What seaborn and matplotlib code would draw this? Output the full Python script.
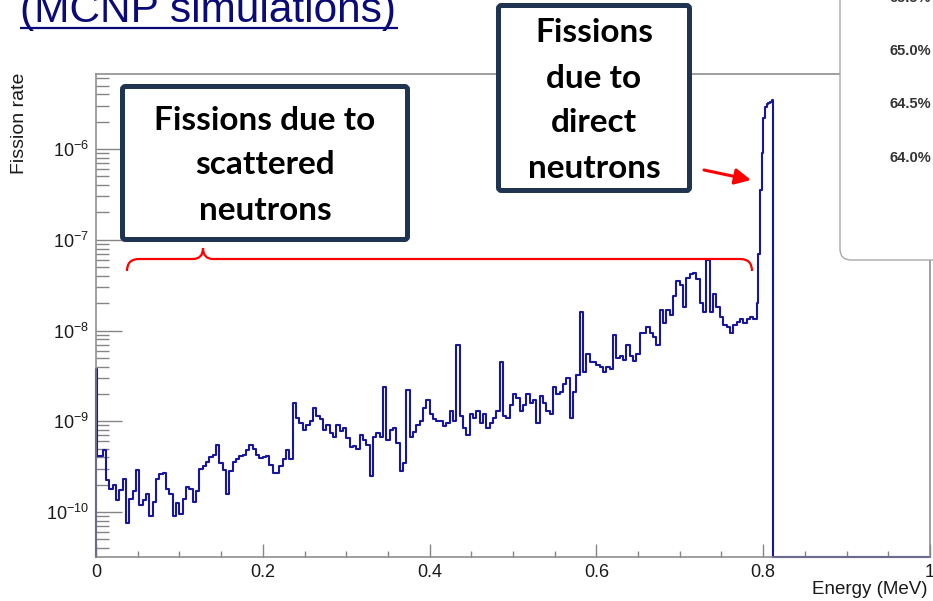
import numpy as np
import pandas as pd
import matplotlib
matplotlib.use("Agg")
import matplotlib.pyplot as plt
import seaborn as sns
from matplotlib.patches import FancyBboxPatch, PathPatch
from matplotlib.path import Path
from matplotlib.ticker import LogLocator, MultipleLocator, LogFormatterMathtext, NullFormatter, FixedLocator, FixedFormatter
import logging
logging.getLogger("matplotlib.font_manager").setLevel(logging.ERROR)

# ---------------- data ----------------
# energy binning (MeV)
low_edges = [0.0, 0.001]
scatter_start, scatter_end, scatter_width = 0.004, 0.792, 0.004
direct_end, direct_width = 0.812, 0.002
axis_end = 1.0

# fission rate in units of 1e-10
scattered_rate_e10 = [
    38, 4.2,
    4.2, 4.8, 2.25, 1.8, 2.0, 1.36, 1.75, 2.3, 0.75, 1.4,
    1.7, 2.9, 1.2, 1.36, 1.6, 0.9, 1.3, 2.3, 2.6, 2.7,
    1.8, 1.6, 0.9, 1.25, 0.95, 1.4, 1.9, 1.8, 1.3, 1.7,
    3.0, 3.2, 3.6, 4.0, 4.3, 5.5, 3.5, 2.9, 1.6, 2.8,
    3.6, 3.8, 4.2, 4.3, 4.8, 5.5, 5.0, 4.3, 3.9,
    4.0, 4.2, 3.3, 2.7, 2.7, 3.2, 3.8, 4.8, 3.8, 16,
    11, 9.5, 8.0, 9.0, 10, 14, 11.5, 10.5, 8.0, 9.2,
    7.5, 6.8, 9.0, 7.8, 8.5, 6.5, 5.2, 5.3, 5.0, 7.0,
    6.3, 5.5, 2.5, 6.8, 7.5, 6.8, 24, 6.3, 8.0, 8.5,
    5.8, 2.8, 3.5, 22, 6.8, 7.6, 9.0, 10, 14, 17,
    12, 10.5, 10, 10, 8.8, 9.5, 13, 10, 70, 11.5,
    8.5, 7.0, 12, 11, 13, 9.5, 12, 8.5, 9.5, 11,
    13, 45, 11.5, 11, 15, 20, 18, 13, 15, 20,
    16, 17, 9.5, 19, 16, 13, 12, 24, 20, 21,
    26, 30, 11, 21, 32, 160, 35, 55, 45, 45,
    42, 40, 35, 40, 38, 90, 50, 52, 47, 70,
    52, 46, 55, 95, 95, 110, 95, 85, 70, 170,
    120, 170, 150, 240, 350, 320, 180, 380, 420, 430,
    370, 200, 160, 600, 160, 250, 180, 140, 115, 110,
    95, 115, 125, 135, 120, 135, 140, 135,
]
direct_rate_e10 = [200, 700, 3500, 9000, 22000, 29000, 31000, 32000, 33000, 35000]
tail_rate_e10 = [0.0]
rate_unit = 1e-10

x_ticks = [0, 0.2, 0.4, 0.6, 0.8, 1.0]
x_tick_labels = ["0", "0.2", "0.4", "0.6", "0.8", "1"]
y_major_ticks = [1e-10, 1e-9, 1e-8, 1e-7, 1e-6]
y_limits = (3.2e-11, 6.7e-6)
box_percent_labels = ["65.5%", "65.0%", "64.5%", "64.0%"]

title_text = "(MCNP simulations)"
scattered_label = ["Fissions due to", "scattered", "neutrons"]
direct_label = ["Fissions", "due to", "direct", "neutrons"]

# ---------------- build histogram outline ----------------
edges = np.concatenate([
    low_edges,
    np.arange(scatter_start, scatter_end + 1e-9, scatter_width),
    np.arange(scatter_end, direct_end + 1e-9, direct_width)[1:],
    [axis_end],
])
rates = np.array(scattered_rate_e10 + direct_rate_e10 + tail_rate_e10) * rate_unit
rates_plot = np.clip(rates, y_limits[0], None)
xs = np.concatenate([[edges[0]], edges])
ys = np.concatenate([[y_limits[0]], rates_plot, [rates_plot[-1]]])
df = pd.DataFrame({"energy": xs, "rate": ys})

# ---------------- figure ----------------
sns.set_theme(style="white")
plt.rcParams["font.family"] = ["Liberation Sans", "DejaVu Sans"]
plt.rcParams["mathtext.fontset"] = "custom"
plt.rcParams["mathtext.rm"] = "Liberation Sans"

W, H = 933, 601
fig = plt.figure(figsize=(W / 100, H / 100), dpi=100)
fig.patch.set_facecolor("white")

L, R, T, B = 96, 930, 74, 557
ax = fig.add_axes([L / W, (H - B) / H, (R - L) / W, (B - T) / H])
ax.set_facecolor("white")

sns.lineplot(data=df, x="energy", y="rate", drawstyle="steps-post", estimator=None,
             sort=False, color="#16169e", linewidth=1.5, ax=ax, clip_on=False)

ax.set_yscale("log")
ax.set_xlim(0, axis_end)
ax.set_ylim(*y_limits)

frame_col = "#858585"
for s in ax.spines.values():
    s.set_color(frame_col)
    s.set_linewidth(1.1)
    s.set_visible(True)

ax.xaxis.set_major_locator(FixedLocator(x_ticks))
ax.xaxis.set_major_formatter(FixedFormatter(x_tick_labels))
ax.xaxis.set_minor_locator(MultipleLocator(0.05))
ax.yaxis.set_major_locator(FixedLocator(y_major_ticks))
ax.yaxis.set_major_formatter(LogFormatterMathtext())
ax.yaxis.set_minor_locator(LogLocator(base=10, subs=np.arange(2, 10), numticks=20))
ax.yaxis.set_minor_formatter(NullFormatter())

px = 0.72  # points per pixel
ax.tick_params(which="both", direction="in", color=frame_col, labelcolor="#1a1a1a",
               bottom=True, left=True, top=False, right=False, width=1.0, labelsize=13)
ax.tick_params(axis="x", which="major", length=13 * px, pad=5)
ax.tick_params(axis="x", which="minor", length=6 * px)
ax.tick_params(axis="y", which="major", length=26 * px, pad=5)
ax.tick_params(axis="y", which="minor", length=13 * px)
ax.grid(False)

ax.set_xlabel("Energy (MeV)", fontsize=13.5, ha="right", va="center", color="#1a1a1a")
ax.xaxis.set_label_coords((928 - L) / (R - L), -(590 - B) / (B - T))
ax.set_ylabel("Fission rate", fontsize=14, ha="right", va="center", color="#1a1a1a")
ax.yaxis.set_label_coords(-(L - 19) / (R - L), 1.002)

# ---------------- overlay annotations (pixel coords) ----------------
ov = fig.add_axes([0, 0, 1, 1], zorder=10)
ov.set_xlim(0, W)
ov.set_ylim(H, 0)
ov.axis("off")
ov.patch.set_alpha(0)

navy = "#0b0b78"
ov.text(20, 22, title_text, fontsize=30.5, color=navy, ha="left", va="baseline")
ov.plot([20, 398], [27.5, 27.5], color=navy, lw=1.6, solid_capstyle="butt")

# legend-like rounded box at top right
ov.add_patch(FancyBboxPatch((840, -40), 200, 300, boxstyle="round,pad=0,rounding_size=11",
                            fc="white", ec="#a8a8a8", lw=1.0))
for lab, yy in zip(box_percent_labels, [-2, 51, 104, 158]):
    ov.text(890, yy, lab, fontsize=10.5, fontweight="bold", color="#333333",
            ha="left", va="center")

box_col = "#1f3450"
box_font = ["Lato", "DejaVu Sans"]
ov.add_patch(FancyBboxPatch((122.5, 86.5), 285, 153, boxstyle="round,pad=0,rounding_size=3",
                            fc="white", ec=box_col, lw=3.6))
for line, yy in zip(scattered_label, [120, 165, 210]):
    ov.text(265, yy, line, fontsize=24, fontweight="bold", color="black",
            ha="center", va="center", family=box_font)

ov.add_patch(FancyBboxPatch((498.5, 5.5), 191, 185, boxstyle="round,pad=0,rounding_size=3",
                            fc="white", ec=box_col, lw=3.6))
for line, yy in zip(direct_label, [33, 78, 123, 168]):
    ov.text(594, yy, line, fontsize=24, fontweight="bold", color="black",
            ha="center", va="center", family=box_font)

# red arrow
ov.annotate("", xy=(751, 180), xytext=(704, 170),
            arrowprops=dict(arrowstyle="-|>", color="red", lw=2.2, mutation_scale=24,
                            shrinkA=0, shrinkB=0))

# red curly brace
verts = [(127, 271), (127, 259), (139, 259),
         (193, 259),
         (203, 259), (203, 248),
         (203, 259), (213, 259),
         (740, 259),
         (752, 259), (752, 271)]
codes = [Path.MOVETO, Path.CURVE3, Path.CURVE3,
         Path.LINETO,
         Path.CURVE3, Path.CURVE3,
         Path.CURVE3, Path.CURVE3,
         Path.LINETO,
         Path.CURVE3, Path.CURVE3]
ov.add_patch(PathPatch(Path(verts, codes), fc="none", ec="red", lw=1.6))

fig.savefig("out.png", dpi=100)
